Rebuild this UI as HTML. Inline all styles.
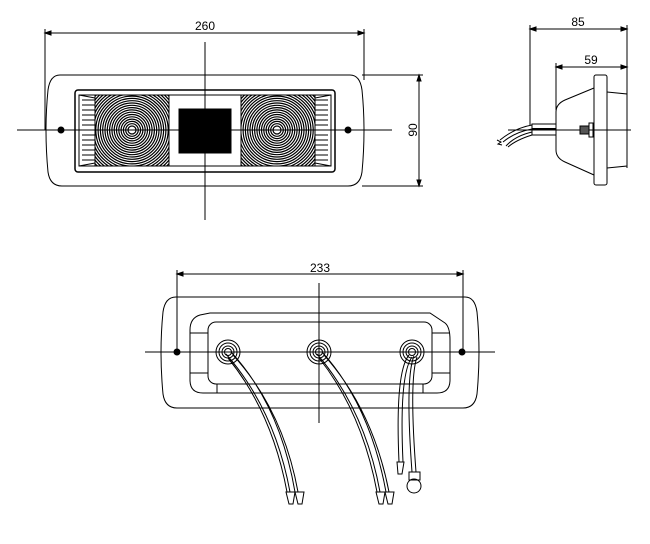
<!DOCTYPE html>
<html><head><meta charset="utf-8"><style>html,body{margin:0;padding:0;background:#fff}svg{display:block}text{font-family:"Liberation Sans",sans-serif;font-size:12px;fill:#000}</style></head>
<body>
<svg width="650" height="544" viewBox="0 0 650 544" xmlns="http://www.w3.org/2000/svg">
<defs>
<clipPath id="c1"><rect x="95" y="95" width="74" height="71"/></clipPath>
<clipPath id="c2"><rect x="241" y="95" width="74" height="71"/></clipPath>
<g id="fr" fill="none" stroke="#000" stroke-width="1.2">
<circle r="4"/><circle r="6.3"/><circle r="8.6"/><circle r="10.9"/><circle r="13.2"/><circle r="15.5"/><circle r="17.8"/><circle r="20.1"/><circle r="22.4"/><circle r="24.7"/><circle r="27"/><circle r="29.3"/><circle r="31.6"/><circle r="33.9"/><circle r="36.2"/><circle r="38.5"/><circle r="40.8"/><circle r="43.1"/><circle r="45.4"/><circle r="47.7"/><circle r="50"/>
</g>
</defs>
<g fill="none" stroke="#000" stroke-width="1">
<!-- TOP VIEW -->
<line x1="45" y1="33" x2="364" y2="33"/>
<line x1="45" y1="29" x2="45" y2="130"/>
<line x1="364" y1="29" x2="364" y2="80"/>
<path d="M45 33 l6 -2 v4 z M364 33 l-6 -2 v4 z" fill="#000"/>
<path d="M60 75 H350 Q360 75 362 90 Q366 130 362 172 Q360 186 348 186 H62 Q50 186 48 172 Q44 130 48 90 Q50 75 60 75 Z"/>
<rect x="75" y="90" width="260" height="82" rx="3" stroke-width="1.5"/>
<rect x="79" y="95" width="252" height="71"/>
<line x1="362" y1="75" x2="423" y2="75"/>
<line x1="362" y1="186" x2="423" y2="186"/>
<line x1="419" y1="75" x2="419" y2="186"/>
<path d="M419 75 l-2 6 h4 z M419 186 l-2 -6 h4 z" fill="#000"/>
<g clip-path="url(#c1)"><use href="#fr" x="132" y="130"/></g>
<g clip-path="url(#c2)"><use href="#fr" x="277" y="130"/></g>
<rect x="95" y="95" width="74" height="71"/>
<rect x="241" y="95" width="74" height="71"/>
<path d="M79 95 L95 98 M79 166 L95 163 M331 95 L315 98 M331 166 L315 163"/>
<path d="M82 100h13M82 105h13M82 110h13M82 115h13M82 120h13M82 125h13M82 130h13M82 135h13M82 140h13M82 145h13M82 150h13M82 155h13M82 160h13"/>
<path d="M315 100h13M315 105h13M315 110h13M315 115h13M315 120h13M315 125h13M315 130h13M315 135h13M315 140h13M315 145h13M315 150h13M315 155h13M315 160h13"/>
<rect x="179" y="109" width="52" height="44" fill="#000"/>
<line x1="205" y1="42" x2="205" y2="220"/>
<line x1="17" y1="130" x2="392" y2="130"/>
<circle cx="61" cy="130" r="3" fill="#000"/>
<circle cx="348" cy="130" r="3" fill="#000"/>
<!-- SIDE VIEW -->
<line x1="530" y1="29" x2="627" y2="29"/>
<line x1="530" y1="25" x2="530" y2="125"/>
<line x1="627" y1="25" x2="627" y2="168"/>
<path d="M530 29 l6 -2 v4 z M627 29 l-6 -2 v4 z" fill="#000"/>
<line x1="556" y1="67" x2="627" y2="67"/>
<line x1="556" y1="63" x2="556" y2="110"/>
<path d="M556 67 l6 -2 v4 z M627 67 l-6 -2 v4 z" fill="#000"/>
<rect x="594" y="75" width="13" height="110" rx="2"/>
<path d="M594 88 L565 100 Q556 104 556 112 L556 150 Q556 158 565 162 L594 175"/>
<path d="M607 92 L627 94 L627 166 L607 168"/>
<line x1="508" y1="130" x2="631" y2="130"/>
<rect x="580" y="126" width="9" height="8" fill="#555"/>
<rect x="589" y="123" width="4" height="14"/>
<rect x="532" y="124" width="24" height="11"/>
<line x1="532" y1="129" x2="556" y2="129" stroke-width="2"/>
<path d="M532 125 Q515 128 500 140 M532 129 Q515 132 503 142 M532 132 Q515 136 506 146 M532 135 Q516 140 508 147"/>
<path d="M497 140 l4 2 -3 2 4 1"/>
<!-- BOTTOM VIEW -->
<line x1="177" y1="274" x2="463" y2="274"/>
<line x1="177" y1="270" x2="177" y2="352"/>
<line x1="463" y1="270" x2="463" y2="352"/>
<path d="M177 274 l6 -2 v4 z M463 274 l-6 -2 v4 z" fill="#000"/>
<path d="M176 297 H465 Q475 297 477 312 Q481 352 477 394 Q475 408 463 408 H177 Q165 408 163 394 Q159 352 163 312 Q165 297 176 297 Z"/>
<path d="M210 313 H430 L445 323 Q450 327 450 340 V380 Q450 393 437 393 H203 Q190 393 190 380 V330 Q190 318 200 315 Z"/>
<rect x="208" y="322" width="224" height="62" rx="8"/>
<path d="M190 333 H208 M190 373 H208 M432 333 H450 M432 373 H450 M217 384 V393 M423 384 V393"/>
<line x1="319" y1="283" x2="319" y2="423"/>
<line x1="145" y1="352" x2="495" y2="352"/>
<circle cx="177" cy="352" r="3" fill="#000"/>
<circle cx="462" cy="352" r="3" fill="#000"/>
<g>
<circle cx="228" cy="352" r="12"/><circle cx="228" cy="352" r="9"/><circle cx="228" cy="352" r="6"/><circle cx="228" cy="352" r="3.5"/>
<circle cx="319" cy="352" r="12"/><circle cx="319" cy="352" r="9"/><circle cx="319" cy="352" r="6"/><circle cx="319" cy="352" r="3.5"/>
<circle cx="412" cy="352" r="12"/><circle cx="412" cy="352" r="9"/><circle cx="412" cy="352" r="6"/><circle cx="412" cy="352" r="3.5"/>
</g>
<path d="M226 354 Q275 410 290 492 M231 352 Q280 405 295 492 M228 358 Q272 412 287 492 M233 355 Q283 410 298 492"/>
<path d="M317 354 Q365 410 380 492 M322 352 Q370 405 386 492 M319 358 Q362 412 377 492 M324 355 Q373 410 389 492"/>
<path d="M409 355 Q395 372 399 462 M412 357 Q399 375 403 462 M414 356 Q405 378 412 472 M417 357 Q409 380 416 472"/>
<path d="M286 492 l3 12 h4 l2 -12 z M295 492 l3 12 h4 l2 -12 z"/>
<path d="M376 492 l3 12 h4 l2 -12 z M385 492 l3 12 h4 l2 -12 z"/>
<path d="M397 462 l1 12 h4 l2 -12 z"/>
<rect x="409" y="472" width="11" height="8"/>
<circle cx="414" cy="486" r="7"/>
</g>
<text x="205" y="30" text-anchor="middle">260</text>
<text x="578" y="26" text-anchor="middle">85</text>
<text x="591" y="64" text-anchor="middle">59</text>
<text x="320" y="272" text-anchor="middle">233</text>
<text x="0" y="0" text-anchor="middle" transform="translate(417 130) rotate(-90)">90</text>
</svg>
</body></html>
